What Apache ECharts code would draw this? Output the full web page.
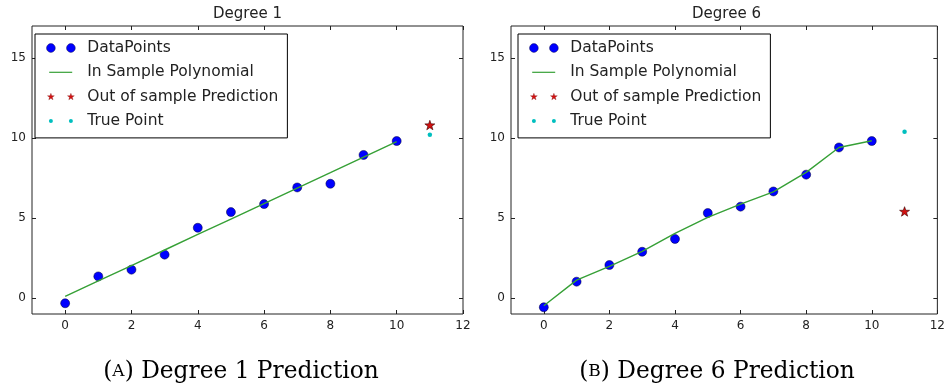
<!DOCTYPE html>
<html>
<head>
<meta charset="utf-8">
<script src="https://cdn.jsdelivr.net/npm/echarts@6/dist/echarts.min.js"></script>
<style>
  html, body { margin: 0; padding: 0; background: #fff; }
  #chart { width: 948px; height: 388px; }
</style>
</head>
<body>
<div id="chart"></div>
<script>
// data
const xs = [0, 1, 2, 3, 4, 5, 6, 7, 8, 9, 10]
const deg1Points = [-0.33, 1.35, 1.77, 2.71, 4.39, 5.37, 5.87, 6.91, 7.14, 8.94, 9.81]
const deg1Fit = [0.10, 1.07, 2.03, 3.00, 3.97, 4.93, 5.90, 6.87, 7.83, 8.80, 9.77]
const deg1Pred = [11, 10.81]
const deg1True = [11, 10.20]

const deg6Points = [-0.58, 1.02, 2.06, 2.89, 3.69, 5.31, 5.71, 6.66, 7.71, 9.41, 9.81]
const deg6Fit = [-0.48, 1.12, 1.98, 2.92, 4.04, 5.04, 5.87, 6.63, 7.85, 9.41, 9.83]
const deg6Pred = [11, 5.41]
const deg6True = [11, 10.39]

const xTicks = [0, 2, 4, 6, 8, 10, 12]
const yTicks = [0, 5, 10, 15]
const panelTitles = ['Degree 1', 'Degree 6']
const captions = [['A', ' Degree 1 Prediction'], ['B', ' Degree 6 Prediction']]
const seriesNames = ['DataPoints', 'In Sample Polynomial', 'Out of sample Prediction', 'True Point']

const BLUE = '#0000ff'
const GREEN = '#36a036'
const RED = '#d41010'
const CYAN = '#00bfbf'
const INK = '#222'

// star outline as an svg path string
const star = (cx, cy, R) => {
  const r = R * 0.4
  let d = ''
  for (let i = 0; i < 10; i++) {
    const a = (-90 + i * 36) * Math.PI / 180
    const rad = i % 2 ? r : R
    d += (i ? 'L' : 'M') + (cx + rad * Math.cos(a)).toFixed(3) + ',' + (cy + rad * Math.sin(a)).toFixed(3)
  }
  return d + 'Z'
}
const circle = (cx, cy, r) => `M${cx - r},${cy}a${r},${r} 0 1,0 ${2 * r},0a${r},${r} 0 1,0 ${-2 * r},0Z`

// legend icons: fixed 36x10 box so every icon keeps the same scale
const box = 'M0,0M36,10'
const legendIcons = [
  'path://' + box + circle(4.7, 5, 4.4) + circle(24.7, 5, 4.4),
  'path://' + box + 'M3,4.4L26,4.4L26,5.6L3,5.6Z',
  'path://' + box + star(4.7, 5.3, 3.6) + star(24.7, 5.3, 3.6),
  'path://' + box + circle(4.7, 5, 2) + circle(24.7, 5, 2)
]
const legendItemStyles = [
  { borderColor: '#000033', borderWidth: 0.4 },
  {},
  { color: RED, borderColor: '#700000', borderWidth: 0.3 },
  {}
]
const starSymbol = 'path://' + star(0, 0, 10)

const grids = [
  { left: 32, top: 26, width: 431, height: 288 },
  { left: 511, top: 26, width: 431, height: 288 }
]

const pair = (ys) => ys.map((y, i) => [xs[i], y])

const xAxes = []
const yAxes = []
grids.forEach((g, gi) => {
  ['bottom', 'top'].forEach((pos) => {
    xAxes.push({
      type: 'value', gridIndex: gi, position: pos, min: -1, max: 12,
      axisLine: { show: false, onZero: false },
      axisTick: { show: true, inside: true, length: 4, customValues: xTicks, lineStyle: { color: INK } },
      axisLabel: { show: pos === 'bottom', customValues: xTicks, margin: 6, color: INK, fontSize: 12, fontFamily: 'DejaVu Sans' },
      splitLine: { show: false }
    })
  })
  ;['left', 'right'].forEach((pos) => {
    yAxes.push({
      type: 'value', gridIndex: gi, position: pos, min: -1, max: 17,
      axisLine: { show: false, onZero: false },
      axisTick: { show: true, inside: true, length: 4, customValues: yTicks, lineStyle: { color: INK } },
      axisLabel: { show: pos === 'left', customValues: yTicks, margin: 6, color: INK, fontSize: 12, fontFamily: 'DejaVu Sans' },
      splitLine: { show: false }
    })
  })
})

const panelSeries = (gi, pts, fit, pred, tru) => [
  {
    name: seriesNames[0], type: 'scatter', xAxisIndex: gi * 2, yAxisIndex: gi * 2,
    data: pair(pts), symbol: 'circle', symbolSize: 9, z: 2,
    itemStyle: { color: BLUE, borderColor: '#000033', borderWidth: 0.5, opacity: 1 }
  },
  {
    name: seriesNames[1], type: 'line', xAxisIndex: gi * 2, yAxisIndex: gi * 2,
    data: pair(fit), showSymbol: false, z: 3,
    itemStyle: { color: GREEN },
    lineStyle: { color: GREEN, width: 1.4 }
  },
  {
    name: seriesNames[2], type: 'scatter', xAxisIndex: gi * 2, yAxisIndex: gi * 2,
    data: [pred], symbol: starSymbol, symbolSize: 10, symbolKeepAspect: true, z: 4,
    itemStyle: { color: RED, borderColor: '#3a0000', borderWidth: 0.6, opacity: 1 }
  },
  {
    name: seriesNames[3], type: 'scatter', xAxisIndex: gi * 2, yAxisIndex: gi * 2,
    data: [tru], symbol: 'circle', symbolSize: 4.5, z: 4,
    itemStyle: { color: CYAN, opacity: 1 }
  }
]

const legendAt = (left) => ({
  orient: 'vertical', left: left, top: 34,
  padding: [6, 9, 9, 11], itemGap: 8.3,
  itemWidth: 36, itemHeight: 10,
  borderColor: '#000', borderWidth: 1, backgroundColor: '#fff',
  selectedMode: false,
  textStyle: { fontSize: 15.5, fontFamily: 'DejaVu Sans', color: INK },
  data: seriesNames.map((n, i) => ({ name: n, icon: legendIcons[i], itemStyle: legendItemStyles[i] }))
})

const chart = echarts.init(document.getElementById('chart'), null, { renderer: 'canvas' })
chart.setOption({
  animation: false,
  backgroundColor: '#fff',
  title: [
    ...panelTitles.map((t, i) => ({
      text: t, left: grids[i].left + grids[i].width / 2, top: 7, textAlign: 'center', padding: 0,
      textStyle: { fontSize: 15, fontWeight: 'normal', fontFamily: 'DejaVu Sans', color: INK }
    })),
    ...captions.map((c, i) => ({
      text: '(' + '{sc|' + c[0] + '})' + c[1], left: [241, 717][i], top: 360, textAlign: 'center', padding: 0,
      textStyle: {
        fontSize: 23.3, fontWeight: 'normal', fontFamily: 'DejaVu Serif', color: '#000',
        rich: { sc: { fontSize: 17, fontFamily: 'DejaVu Serif', color: '#000' } }
      }
    }))
  ],
  grid: grids.map((g) => ({ ...g, show: true, borderColor: INK, borderWidth: 1, backgroundColor: 'transparent', containLabel: false })),
  xAxis: xAxes,
  yAxis: yAxes,
  legend: [legendAt(35), legendAt(518)],
  series: [
    ...panelSeries(0, deg1Points, deg1Fit, deg1Pred, deg1True),
    ...panelSeries(1, deg6Points, deg6Fit, deg6Pred, deg6True)
  ]
})
</script>
</body>
</html>
